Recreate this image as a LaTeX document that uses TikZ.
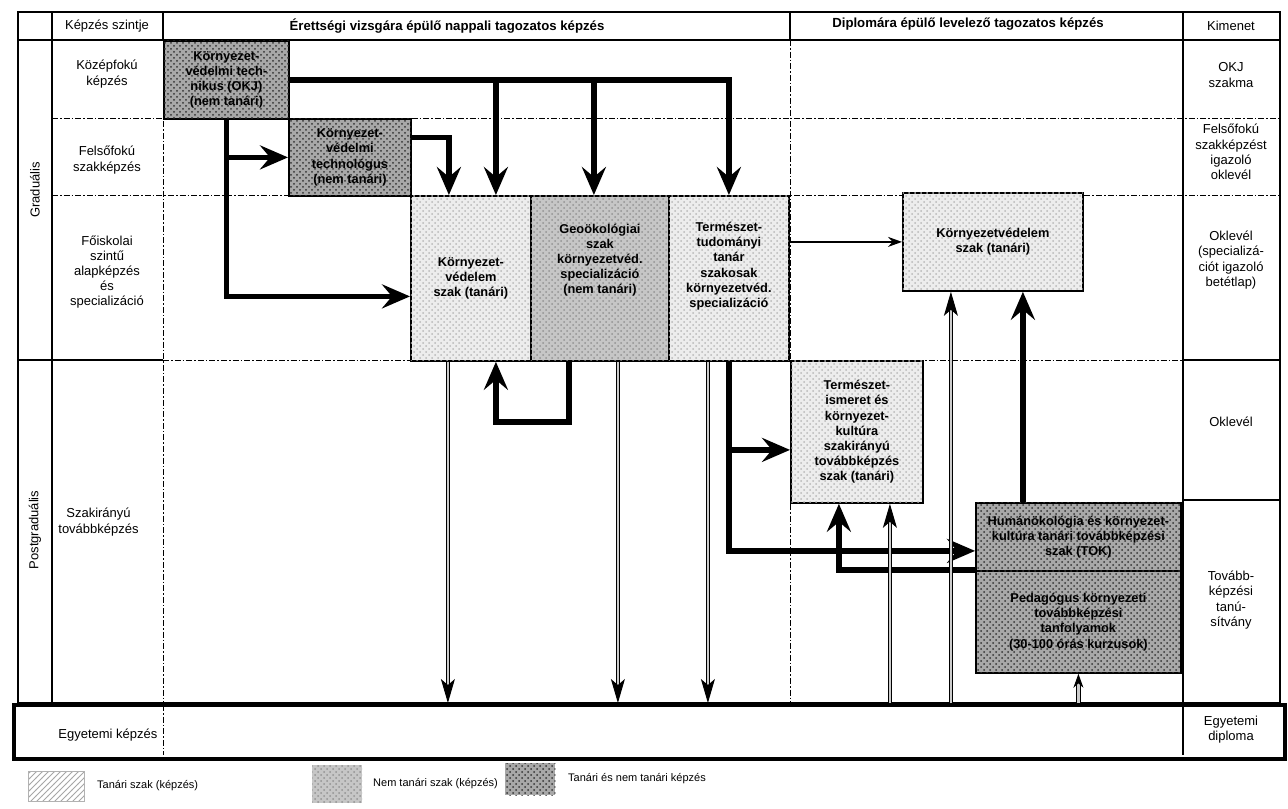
\documentclass[tikz,border=0pt]{standalone}
\usepackage{fontspec}
\setmainfont{Liberation Sans}
\usetikzlibrary{arrows.meta,patterns,positioning}
\tikzset{
	lbl/.style={font=\fontsize{6.5}{7.6}\selectfont, align=center, inner sep=0pt},
	head/.style={font=\bfseries\fontsize{6.6}{7.6}\selectfont, inner sep=0pt},
	leg/.style={font=\fontsize{5.5}{6.6}\selectfont, inner sep=0pt},
	bx/.style 2 args={draw, line width=0.9pt, anchor=north west, inner sep=1pt,
		minimum width=#1*0.5pt, minimum height=#2*0.5pt, align=center,
		font=\bfseries\fontsize{6.4}{7.6}\selectfont},
	tanari/.style={fill=gray!14, postaction={pattern=crosshatch dots, pattern color=gray!55}},
	nemtanari/.style={fill=gray!45, postaction={pattern=crosshatch dots, pattern color=gray!85}},
	vegyes/.style={fill=gray!68, postaction={pattern=crosshatch dots, pattern color=black!80}},
	cell/.style={line width=0.6pt},
	cellsep/.style={line width=0.5pt, dash pattern=on 3pt off 1pt on 0.8pt off 1pt},
	fat/.style={line width=2.8pt, -{Stealth[length=14pt, width=12pt, inset=5pt]}},
	slim/.style={line width=0.5pt, double=gray!40, double distance=1.2pt,
		-{Stealth[length=12pt, width=7pt, inset=3pt]}},
}
\begin{document}
\begin{tikzpicture}[x=0.5pt, y=-0.5pt]
		\useasboundingbox (0,0) rectangle (1288,808);
		% table grid
		\draw[cell] (18,12) rectangle (1280,703);
		\draw[cell] (18,40) -- (1280,40);
		\draw[cell] (52,12) -- (52,703) (1183,12) -- (1183,703);
		\draw[cell] (163,12) -- (163,40) (790,12) -- (790,40);
		\draw[cellsep] (163,40) -- (163,703) (790,40) -- (790,703);
		\draw[cellsep] (52,118) -- (1280,118) (52,195) -- (1280,195) (163,360) -- (1183,360);
		\draw[cell] (18,360) -- (163,360) (1183,360) -- (1280,360) (1183,500) -- (1280,500);
		% headers and row labels
		\node[lbl] at (107,26)(szint){Képzés szintje};
		\node[head] at (447,26)(nappali){Érettségi vizsgára épülő nappali tagozatos képzés};
		\node[head] at (968,24)(levelezo){Diplomára épülő levelező tagozatos képzés};
		\node[lbl] at (1231,26)(kimenet){Kimenet};
		\node[lbl, rotate=90] at (35,190)(grad){Graduális};
		\node[lbl, rotate=90] at (35,530)(pgrad){Postgraduális};
		\node[lbl] at (107,74)(kozep){Középfokú\\képzés};
		\node[lbl] at (107,160)(felso){Felsőfokú\\szakképzés};
		\node[lbl] at (107,272)(foisk){Főiskolai\\szintű\\alapképzés\\és\\specializáció};
		\node[lbl, anchor=west] at (58,522)(szakir){Szakirányú\\továbbképzés};
		\node[lbl] at (1231,75)(okj){OKJ\\szakma};
		\node[lbl] at (1231,152)(felsook){Felsőfokú\\szakképzést\\igazoló\\oklevél};
		\node[lbl] at (1231,260)(oklspec){Oklevél\\(specializá-\\ciót igazoló\\betétlap)};
		\node[lbl] at (1231,422)(okl){Oklevél};
		\node[lbl] at (1231,600)(tanusitv){Tovább-\\képzési\\tanú-\\sítvány};
		% university row
		\node[draw, line width=2.2pt, anchor=north west, inner sep=0pt,
			minimum width=1271*0.5pt, minimum height=54*0.5pt] at (12,703)(egy){};
		\draw[cellsep] (163,705) -- (163,755);
		\draw[cell] (1183,705) -- (1183,755);
		\node[lbl, anchor=west] at (58,735)(egyk){Egyetemi képzés};
		\node[lbl] at (1231,730)(dipl){Egyetemi\\diploma};
		% programmes
		\node[bx={125}{78}, vegyes] at (163,40)(b1){Környezet-\\védelmi tech-\\nikus (OKJ)\\(nem tanári)};
		\node[bx={122}{77}, vegyes] at (288,118)(b2){Környezet-\\védelmi\\technológus\\(nem tanári)};
		\node[bx={120}{165}, tanari] at (410,195)(b3){Környezet-\\védelem\\szak (tanári)};
		\node[bx={138}{165}, nemtanari] at (530,195)(b4){Geoökológiai\\szak\\környezetvéd.\\specializáció\\(nem tanári)\\[12pt]};
		\node[bx={120}{165}, tanari] at (668,195)(b5){Természet-\\tudományi\\tanár\\szakosak\\környezetvéd.\\specializáció\\[6pt]};
		\node[bx={180}{98}, tanari] at (902,192)(b6){Környezetvédelem\\szak (tanári)};
		\node[bx={132}{142}, tanari] at (790,360)(b7){Természet-\\ismeret és\\környezet-\\kultúra\\szakirányú\\továbbképzés\\szak (tanári)};
		\node[bx={205}{68}, vegyes] at (975,502)(b8a){Humánökológia és környezet-\\kultúra tanári továbbképzési\\szak (TOK)};
		\node[bx={205}{102}, vegyes] at (975,570)(b8b){Pedagógus környezeti\\továbbképzési\\tanfolyamok\\(30-100 órás kurzusok)};
		% thick arrows
		\coordinate (k3) at ([xshift=12.5pt]b3.north);
		\coordinate (k4) at ([xshift=-3pt]b4.north);
		\draw[fat] (b1.east) -| (b5.north);
		\draw[fat] (k3 |- b1.east) -- (k3);
		\draw[fat] (k4 |- b1.east) -- (k4);
		\draw[fat] ([yshift=10pt]b2.east) -| ([xshift=-11pt]b3.north);
		\draw[fat] (b1.south) |- ([yshift=-9pt]b3.west);
		\draw[fat] (b1.south |- b2.west) -- (b2.west);
		\draw[fat] ([xshift=-15.5pt]b4.south) -- ++(0,60) -| ([xshift=12.5pt]b3.south);
		\coordinate (t7) at ([yshift=-9pt]b7.west);
		\draw[fat] (b5.south) |- ([yshift=-7pt]b8a.west);
		\draw[fat] (b5.south |- t7) -- (t7);
		\draw[fat] (b8b.north west) -| ([xshift=-9pt]b7.south);
		\coordinate (f6) at ([xshift=15pt]b6.south);
		\draw[fat] (f6 |- b8a.north) -- (f6);
		\draw[line width=0.8pt, -{Stealth[length=7pt, width=5pt]}] (b5.east |- b6.west) -- (b6.west);
		% double arrows to and from the university row
		\coordinate (d3) at ([xshift=-11.5pt]b3.south);
		\coordinate (d4) at ([xshift=9pt]b4.south);
		\coordinate (d5) at ([xshift=-10.5pt]b5.south);
		\draw[slim] (d3) -- (d3 |- egy.north);
		\draw[slim] (d4) -- (d4 |- egy.north);
		\draw[slim] (d5) -- (d5 |- egy.north);
		\coordinate (u7) at ([xshift=16.5pt]b7.south);
		\coordinate (u6) at ([xshift=-21pt]b6.south);
		\draw[slim] (u7 |- egy.north) -- (u7);
		\draw[slim] (u6 |- egy.north) -- (u6);
		\draw[slim, -{Stealth[length=7pt, width=5pt]}] (b8b.south |- egy.north) -- (b8b.south);
		% legend
		\node[draw=gray!60, pattern=north east lines, pattern color=gray!70, anchor=west,
			minimum width=28pt, minimum height=15pt] at (28,786)(lg1){};
		\node[leg, right=6pt of lg1](lt1){Tanári szak (képzés)};
		\node[nemtanari, anchor=west, minimum width=25pt, minimum height=19pt] at (312,784)(lg2){};
		\node[leg, right=5pt of lg2](lt2){Nem tanári szak (képzés)};
		\node[vegyes, anchor=west, minimum width=25pt, minimum height=16pt] at (505,779)(lg3){};
		\node[leg, right=6pt of lg3](lt3){Tanári és nem tanári képzés};
	\end{tikzpicture}
\end{document}
